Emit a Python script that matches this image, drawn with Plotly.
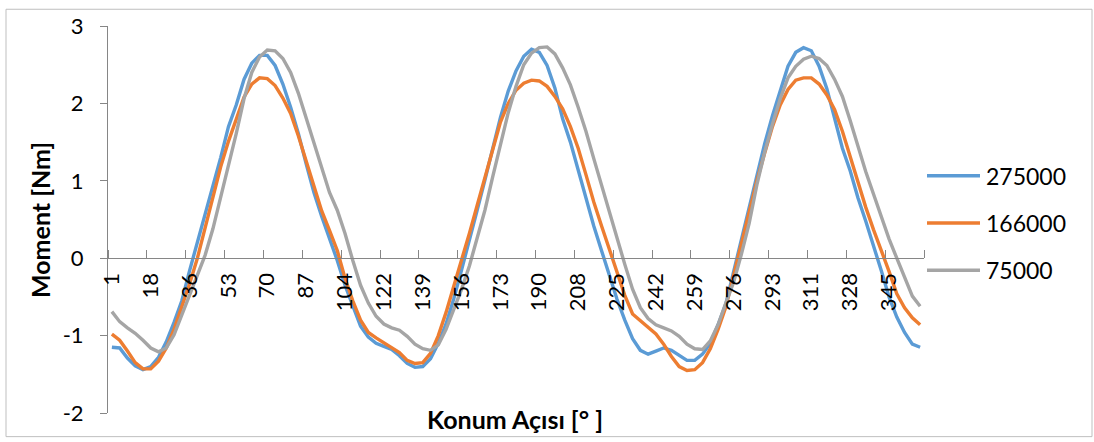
import plotly.graph_objects as go

# Category tick labels (every fifth position angle, degrees)
tick_labels = ["1", "18", "36", "53", "70", "87", "104", "122", "139", "156", "173",
               "190", "208", "225", "242", "259", "276", "293", "311", "328", "345"]
y_tick_values = [-2, -1, 0, 1, 2, 3]
y_tick_labels = ["-2", "-1", "0", "1", "2", "3"]

series_names = ["275000", "166000", "75000"]
series_colors = ["#5B9BD5", "#ED7D31", "#A5A5A5"]

moment_275000 = [
    -1.15, -1.16, -1.29, -1.39, -1.44, -1.40, -1.28, -1.08, -0.83, -0.55,
    -0.16, 0.20, 0.55, 0.91, 1.30, 1.70, 1.98, 2.31, 2.52, 2.62,
    2.62, 2.49, 2.25, 1.95, 1.61, 1.22, 0.85, 0.54, 0.26, -0.03,
    -0.35, -0.63, -0.88, -1.02, -1.10, -1.14, -1.18, -1.26, -1.36, -1.41,
    -1.40, -1.30, -1.10, -0.85, -0.52, -0.15, 0.22, 0.62, 1.01, 1.43,
    1.82, 2.16, 2.42, 2.61, 2.70, 2.66, 2.49, 2.20, 1.80, 1.50,
    1.13, 0.76, 0.42, 0.10, -0.23, -0.53, -0.80, -1.04, -1.19, -1.24,
    -1.20, -1.16, -1.19, -1.26, -1.32, -1.32, -1.24, -1.10, -0.86, -0.59,
    -0.18, 0.24, 0.67, 1.09, 1.48, 1.84, 2.17, 2.48, 2.66, 2.72,
    2.68, 2.48, 2.19, 1.81, 1.42, 1.13, 0.78, 0.48, 0.17, -0.16,
    -0.50, -0.76, -0.96, -1.11, -1.15,
]

moment_166000 = [
    -0.98, -1.06, -1.20, -1.35, -1.43, -1.43, -1.33, -1.16, -0.92, -0.64,
    -0.33, 0.00, 0.38, 0.78, 1.18, 1.51, 1.80, 2.08, 2.25, 2.33,
    2.32, 2.23, 2.07, 1.87, 1.58, 1.25, 0.92, 0.61, 0.36, 0.10,
    -0.26, -0.55, -0.80, -0.96, -1.03, -1.09, -1.15, -1.22, -1.32, -1.36,
    -1.35, -1.23, -1.00, -0.70, -0.36, -0.03, 0.32, 0.68, 1.04, 1.43,
    1.76, 2.00, 2.17, 2.26, 2.30, 2.29, 2.22, 2.09, 1.93, 1.70,
    1.42, 1.08, 0.73, 0.42, 0.13, -0.17, -0.48, -0.72, -0.81, -0.89,
    -0.98, -1.11, -1.27, -1.40, -1.45, -1.44, -1.35, -1.17, -0.92, -0.63,
    -0.22, 0.18, 0.59, 1.00, 1.36, 1.70, 1.98, 2.18, 2.30, 2.33,
    2.33, 2.25, 2.11, 1.92, 1.64, 1.31, 0.98, 0.66, 0.37, 0.11,
    -0.17, -0.46, -0.64, -0.77, -0.86,
]

moment_75000 = [
    -0.69, -0.82, -0.90, -0.97, -1.06, -1.16, -1.21, -1.16, -0.99, -0.74,
    -0.48, -0.22, 0.04, 0.38, 0.79, 1.19, 1.61, 2.06, 2.40, 2.60,
    2.69, 2.68, 2.58, 2.40, 2.13, 1.81, 1.48, 1.15, 0.85, 0.62,
    0.32, -0.03, -0.35, -0.58, -0.75, -0.85, -0.90, -0.93, -1.01, -1.11,
    -1.17, -1.19, -1.12, -0.92, -0.66, -0.40, -0.10, 0.25, 0.62, 1.05,
    1.48, 1.88, 2.22, 2.50, 2.65, 2.72, 2.73, 2.64, 2.46, 2.24,
    1.95, 1.64, 1.29, 0.94, 0.58, 0.25, -0.08, -0.40, -0.64, -0.78,
    -0.86, -0.90, -0.94, -1.01, -1.11, -1.17, -1.18, -1.07, -0.86, -0.58,
    -0.31, 0.05, 0.45, 0.95, 1.37, 1.73, 2.06, 2.33, 2.48, 2.57,
    2.61, 2.58, 2.49, 2.31, 2.09, 1.78, 1.45, 1.12, 0.83, 0.53,
    0.25, 0.00, -0.24, -0.49, -0.62,
]

all_series = [moment_275000, moment_166000, moment_75000]

W, H = 1094, 442
PL, PR, PT, PB = 108, 924, 20, 413   # plot-area edges in pixels
AXIS_GRAY = "#868686"
FONT = "Lato"


def fx(px):
    return (px - PL) / (PR - PL)


def fy(py):
    return (PB - py) / (PB - PT)


fig = go.Figure()
positions = list(range(len(moment_275000)))
for name, color, values in zip(series_names, series_colors, all_series):
    fig.add_trace(go.Scatter(
        x=positions, y=values, mode="lines", name=name,
        line=dict(color=color, width=3.4), showlegend=False,
    ))

shapes = [
    # outer chart border
    dict(type="rect", xref="paper", yref="paper",
         x0=fx(6), x1=fx(1092), y0=fy(437), y1=fy(3),
         line=dict(color="#BFBFBF", width=1), fillcolor="rgba(0,0,0,0)", layer="below"),
]
annotations = []

# legend: line swatch + label per series
legend_rows = [172, 220, 268]
for name, color, py in zip(series_names, series_colors, legend_rows):
    shapes.append(dict(type="line", xref="paper", yref="paper",
                       x0=fx(927), x1=fx(980), y0=fy(py), y1=fy(py),
                       line=dict(color=color, width=3.4)))
    annotations.append(dict(xref="paper", yref="paper", x=fx(984), y=fy(py),
                            text=name, showarrow=False, xanchor="left", yanchor="middle",
                            font=dict(family=FONT, size=23, color="#000000")))

annotations.append(dict(xref="paper", yref="paper", x=fx(40), y=fy(217),
                        text="<b>Moment [Nm]</b>", textangle=-90, showarrow=False,
                        xanchor="center", yanchor="middle",
                        font=dict(family=FONT, size=25, color="#000000")))
annotations.append(dict(xref="paper", yref="paper", x=fx(515), y=fy(419),
                        text="<b>Konum Açısı [° ]</b>", showarrow=False,
                        xanchor="center", yanchor="middle",
                        font=dict(family=FONT, size=25, color="#000000")))

fig.update_layout(
    width=W, height=H,
    margin=dict(l=PL, r=W - PR, t=PT, b=H - PB, pad=0),
    paper_bgcolor="#FFFFFF", plot_bgcolor="#FFFFFF",
    font=dict(family=FONT, size=22, color="#000000"),
    shapes=shapes, annotations=annotations,
    xaxis=dict(
        range=[-0.5, len(positions) - 0.5],
        anchor="free", position=0.4,
        tickmode="array",
        tickvals=list(range(0, len(positions), 5)),
        ticktext=tick_labels,
        tickangle=-90, ticks="", ticklabelstandoff=5,
        tickfont=dict(family=FONT, size=22, color="#000000"),
        minor=dict(ticks="inside", tick0=-0.5, dtick=5, ticklen=8,
                   tickcolor=AXIS_GRAY, tickwidth=1),
        showline=True, linecolor=AXIS_GRAY, linewidth=1,
        showgrid=False, zeroline=False,
    ),
    yaxis=dict(
        range=[-2, 3], tickmode="array",
        tickvals=y_tick_values, ticktext=y_tick_labels,
        ticks="outside", ticklen=7, tickcolor=AXIS_GRAY, tickwidth=1,
        ticklabelstandoff=12,
        tickfont=dict(family=FONT, size=22, color="#000000"),
        showline=True, linecolor=AXIS_GRAY, linewidth=1,
        showgrid=False, zeroline=False,
    ),
)

fig.write_html("out.html")
